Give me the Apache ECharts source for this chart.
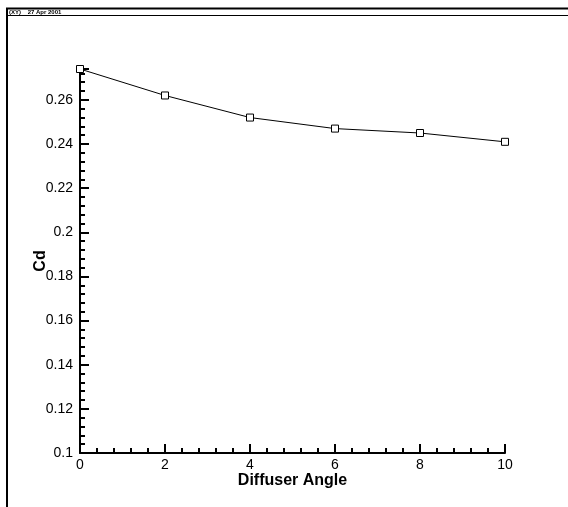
<!DOCTYPE html>
<html>
<head>
<meta charset="utf-8">
<script src="https://cdn.jsdelivr.net/npm/echarts@6/dist/echarts.min.js"></script>
<style>
  html, body { margin: 0; padding: 0; background: #fff; }
  #chart { width: 568px; height: 507px; }
</style>
</head>
<body>
<div id="chart"></div>
<script>
// Cd vs diffuser angle
const angles = [0, 2, 4, 6, 8, 10];
const cdValues = [0.274, 0.262, 0.252, 0.247, 0.245, 0.241];
const headerText = '(XY)    27 Apr 2001';

const chart = echarts.init(document.getElementById('chart'));

const axisText = { color: '#000', fontFamily: 'Liberation Sans, Arial, sans-serif', fontSize: 14 };

chart.setOption({
    backgroundColor: '#fff',
    animation: false,
    graphic: [
        // Tecplot-style frame header
        { type: 'line', shape: { x1: 6, y1: 8.5, x2: 568, y2: 8.5 }, style: { stroke: '#000', lineWidth: 2 } },
        { type: 'line', shape: { x1: 6, y1: 15.5, x2: 568, y2: 15.5 }, style: { stroke: '#000', lineWidth: 1 } },
        { type: 'line', shape: { x1: 7, y1: 8, x2: 7, y2: 507 }, style: { stroke: '#000', lineWidth: 2 } },
        { type: 'text', left: 9, top: 9, style: { text: headerText, fill: '#000', font: 'bold 6px Liberation Sans, Arial, sans-serif' } }
    ],
    grid: { left: 80, right: 63, top: 69, bottom: 54, containLabel: false },
    xAxis: {
        type: 'value',
        min: 0, max: 10, interval: 2,
        name: 'Diffuser Angle',
        nameLocation: 'middle',
        nameGap: 20,
        nameMoveOverlap: false,
        nameTextStyle: { color: '#000', fontFamily: 'Liberation Sans, Arial, sans-serif', fontSize: 16, fontWeight: 'bold' },
        axisLine: { lineStyle: { color: '#000', width: 2 } },
        axisTick: { inside: true, length: 9, lineStyle: { color: '#000', width: 2 } },
        minorTick: { show: true, splitNumber: 5, length: 5, lineStyle: { color: '#000', width: 2 } },
        axisLabel: Object.assign({ margin: 5 }, axisText),
        splitLine: { show: false }
    },
    yAxis: {
        type: 'value',
        min: 0.1, max: 0.274, interval: 0.02,
        name: 'Cd',
        nameLocation: 'middle',
        nameGap: 31,
        nameMoveOverlap: false,
        nameRotate: 90,
        nameTextStyle: { color: '#000', fontFamily: 'Liberation Sans, Arial, sans-serif', fontSize: 16, fontWeight: 'bold' },
        axisLine: { lineStyle: { color: '#000', width: 2 } },
        axisTick: { inside: true, length: 9, lineStyle: { color: '#000', width: 2 } },
        minorTick: { show: true, splitNumber: 5, length: 5, lineStyle: { color: '#000', width: 2 } },
        axisLabel: Object.assign({ margin: 7, showMaxLabel: false }, axisText),
        splitLine: { show: false }
    },
    series: [{
        type: 'line',
        data: angles.map((a, i) => [a, cdValues[i]]),
        symbol: 'rect',
        symbolSize: 7,
        showAllSymbol: true,
        lineStyle: { color: '#000', width: 1 },
        itemStyle: { color: '#fff', borderColor: '#000', borderWidth: 1 }
    }]
});
</script>
</body>
</html>
